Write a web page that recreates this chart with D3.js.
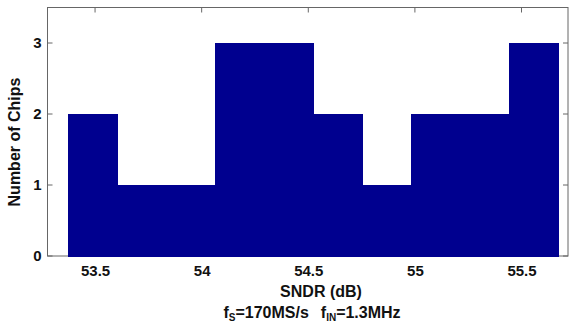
<!DOCTYPE html>
<html>
<head>
<meta charset="utf-8">
<script src="https://d3js.org/d3.v7.min.js"></script>
<style>
  body { margin:0; background:#fff; }
  text { font-family: "Liberation Sans", Arial, sans-serif; font-weight: bold; fill:#111; }
  .tick text { font-size: 15px; }
  .lbl { font-size: 16px; }
</style>
</head>
<body>
<script>
// histogram of SNDR over 20 chips (10 bins)
var binEdges = [53.373, 53.603, 53.833, 54.062, 54.292, 54.522, 54.752, 54.982, 55.211, 55.441, 55.671];
var counts = [2, 1, 1, 3, 3, 2, 1, 2, 2, 3];
var xTicks = [53.5, 54, 54.5, 55, 55.5];
var yTicks = [0, 1, 2, 3];

var w = 577, h = 324;
var svg = d3.select("body").append("svg").attr("width", w).attr("height", h);

var x = d3.scaleLinear().domain([53.277, 55.718]).range([47.5, 568]);
var y = d3.scaleLinear().domain([0, 3.5]).range([256, 7.5]);

var bins = counts.map(function(c, i) { return {x0: binEdges[i], x1: binEdges[i + 1], n: c}; });

// box
svg.append("rect")
  .attr("x", x.range()[0]).attr("y", y.range()[1])
  .attr("width", x.range()[1] - x.range()[0])
  .attr("height", y.range()[0] - y.range()[1])
  .attr("fill", "none").attr("stroke", "#666").attr("stroke-width", 1);

// inward tick marks on all four sides
var tl = 5;
xTicks.forEach(function(t) {
  svg.append("line").attr("x1", x(t)).attr("x2", x(t)).attr("y1", y.range()[1]).attr("y2", y.range()[1] + tl).attr("stroke", "#666");
  svg.append("line").attr("x1", x(t)).attr("x2", x(t)).attr("y1", y(0)).attr("y2", y(0) - tl).attr("stroke", "#666");
});
yTicks.forEach(function(t) {
  svg.append("line").attr("x1", x.range()[0]).attr("x2", x.range()[0] + tl).attr("y1", y(t)).attr("y2", y(t)).attr("stroke", "#666");
  svg.append("line").attr("x1", x.range()[1]).attr("x2", x.range()[1] - tl).attr("y1", y(t)).attr("y2", y(t)).attr("stroke", "#666");
});

svg.append("g").selectAll("rect")
  .data(bins)
  .enter().append("rect")
  .attr("x", function(d) { return Math.round(x(d.x0)); })
  .attr("y", function(d) { return Math.round(y(d.n)); })
  .attr("width", function(d) { return Math.round(x(d.x1)) - Math.round(x(d.x0)) + 1; })
  .attr("height", function(d) { return Math.round(y(0)) - Math.round(y(d.n)) + 1; })
  .attr("shape-rendering", "crispEdges")
  .attr("fill", "#00008f");

var gx = svg.append("g").attr("transform", "translate(0," + y(0) + ")")
  .call(d3.axisBottom(x).tickValues(xTicks).tickSize(0).tickPadding(9).tickFormat(d3.format("")));
gx.select(".domain").remove();

var gy = svg.append("g").attr("transform", "translate(" + x.range()[0] + ",0)")
  .call(d3.axisLeft(y).tickValues(yTicks).tickSize(0).tickPadding(6).tickFormat(d3.format("d")));
gy.select(".domain").remove();

svg.append("text").attr("class", "lbl")
  .attr("transform", "translate(20,142) rotate(-90)")
  .attr("text-anchor", "middle")
  .text("Number of Chips");

svg.append("text").attr("class", "lbl")
  .attr("x", 321).attr("y", 297)
  .attr("text-anchor", "middle")
  .text("SNDR (dB)");

var sub = svg.append("text").attr("class", "lbl")
  .attr("x", 312).attr("y", 318)
  .attr("text-anchor", "middle");
sub.append("tspan").text("f");
sub.append("tspan").attr("dy", 3).style("font-size", "10px").text("S");
sub.append("tspan").attr("dy", -3).text("=170MS/s");
sub.append("tspan").attr("dx", 12).text("f");
sub.append("tspan").attr("dy", 3).style("font-size", "10px").text("IN");
sub.append("tspan").attr("dy", -3).text("=1.3MHz");
</script>
</body>
</html>
